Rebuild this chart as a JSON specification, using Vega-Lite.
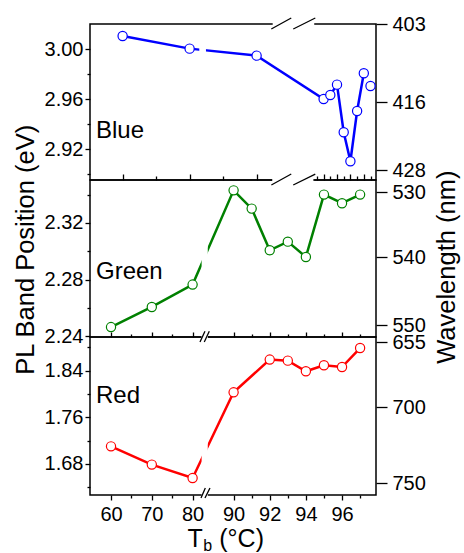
{
  "$schema": "https://vega.github.io/schema/vega-lite/v6.json",
  "padding": {"left": 12, "top": 13, "right": 0, "bottom": 0},
  "spacing": 0,
  "bounds": "flush",
  "config": {
    "view": {"stroke": "#000", "strokeWidth": 1.5},
    "font": "Liberation Sans",
    "axis": {"labelFont": "Liberation Sans", "titleFont": "Liberation Sans", "labelFontSize": 20, "titleFontSize": 25.5, "titleFontWeight": "normal", "labelColor": "#000", "titleColor": "#000", "tickColor": "#000", "tickWidth": 1.3, "domain": false, "grid": false, "labelOverlap": false, "labelFlush": false}
  },
  "datasets": {
    "blue": [{"T":60,"E":3.0104},{"T":70,"E":3.0003},{"T":80,"E":2.9947},{"T":90,"E":2.960},{"T":91,"E":2.9632},{"T":92,"E":2.9715},{"T":93,"E":2.9334},{"T":94,"E":2.9102},{"T":95,"E":2.9504},{"T":96,"E":2.9806},{"T":97,"E":2.9704}],
    "green": [{"T":60,"E":2.2465},{"T":70,"E":2.2607},{"T":80,"E":2.2765},{"T":90,"E":2.3430},{"T":91,"E":2.3301},{"T":92,"E":2.3007},{"T":93,"E":2.3068},{"T":94,"E":2.2960},{"T":95,"E":2.3400},{"T":96,"E":2.3339},{"T":97,"E":2.3400}],
    "red": [{"T":60,"E":1.7102},{"T":70,"E":1.6789},{"T":80,"E":1.6559},{"T":90,"E":1.8028},{"T":92,"E":1.8589},{"T":93,"E":1.8571},{"T":94,"E":1.8388},{"T":95,"E":1.8491},{"T":96,"E":1.8462},{"T":97,"E":1.8787}]
  },
  "vconcat": [
    {
      "width": 286, "height": 156,
      "resolve": {"scale": {"y": "independent"}, "axis": {"y": "independent"}},
      "layer": [
        {"resolve": {"axis": {"x": "independent", "y": "independent"}},
         "layer": [
          {"data": {"name": "blue"}, "transform": [{"filter": "datum.T < 97"}],
           "mark": {"type": "line", "color": "#0000ff", "strokeWidth": 2.5},
           "encoding": {
             "x": {"field": "T", "type": "quantitative", "scale": {"domain": [55.13, 97.82], "nice": false, "zero": false},
                   "axis": {"orient": "bottom", "values": [60,70,80,90,92,94,96], "labels": false, "title": null, "tickSize": -6}},
             "y": {"field": "E", "type": "quantitative", "scale": {"domain": [2.8952, 3.02], "nice": false, "zero": false},
                   "axis": {"orient": "left", "values": [2.92,2.96,3.00], "format": ".2f", "title": null, "labelPadding": 2, "tickSize": 5}}
           }},
          {"data": {"values": [{}]}, "mark": {"type": "rect", "color": "#fff"},
           "encoding": {"x": {"datum": 71.44, "type": "quantitative", "axis": null}, "x2": {"datum": 72.44}, "y": {"datum": 2.9962, "type": "quantitative", "axis": null}, "y2": {"datum": 3.0012}}},
          {"data": {"values": [{}]}, "mark": {"type": "rect", "color": "#fff"},
           "encoding": {"x": {"datum": 82.4, "type": "quantitative", "axis": null}, "x2": {"datum": 88.6}, "y": {"datum": 3.018, "type": "quantitative", "axis": null}, "y2": {"datum": 3.022}}},
          {"data": {"values": [{}]}, "mark": {"type": "rect", "color": "#fff"},
           "encoding": {"x": {"datum": 82.4, "type": "quantitative", "axis": null}, "x2": {"datum": 88.6}, "y": {"datum": 2.8934, "type": "quantitative", "axis": null}, "y2": {"datum": 2.897}}},
          {"data": {"name": "blue"},
           "mark": {"type": "point", "shape": "circle", "size": 85, "filled": true, "fill": "#fff", "stroke": "#0000ff", "strokeWidth": 1.2, "opacity": 1},
           "encoding": {
             "x": {"field": "T", "type": "quantitative", "axis": {"orient": "bottom", "values": [65,75,89,91,93,95,97], "labels": false, "title": null, "tickSize": -4}},
             "y": {"field": "E", "type": "quantitative", "axis": {"orient": "left", "values": [2.90,2.94,2.98], "labels": false, "title": null, "tickSize": 3}}}},
          {"data": {"values": [{}]}, "mark": {"type": "text", "text": "Blue", "fontSize": 24, "font": "Liberation Sans", "align": "left", "baseline": "alphabetic", "color": "#000"},
           "encoding": {"x": {"datum": 56.03, "type": "quantitative", "axis": null}, "y": {"datum": 2.9292, "type": "quantitative", "axis": null}}},
          {"data": {"values": [{}]}, "mark": {"type": "rule", "color": "#000", "strokeWidth": 1.3},
           "encoding": {"x": {"datum": 82.19, "type": "quantitative", "axis": null}, "x2": {"datum": 85.17}, "y": {"datum": 3.016, "type": "quantitative", "axis": null}, "y2": {"datum": 3.0248}}},
          {"data": {"values": [{}]}, "mark": {"type": "rule", "color": "#000", "strokeWidth": 1.3},
           "encoding": {"x": {"datum": 85.47, "type": "quantitative", "axis": null}, "x2": {"datum": 88.76}, "y": {"datum": 3.016, "type": "quantitative", "axis": null}, "y2": {"datum": 3.0248}}}
        ]},
        {"data": {"values": [{}]}, "mark": {"type": "point", "opacity": 0},
         "encoding": {"y": {"datum": 403, "type": "quantitative",
                            "scale": {"domain": [403, 416, 428], "range": [0, 78, 146.3], "nice": false, "zero": false},
                            "axis": {"orient": "right", "values": [403, 416, 428], "tickSize": 11, "labelPadding": 5, "title": null}}}}
      ]
    },
    {
      "width": 286, "height": 157,
      "resolve": {"scale": {"y": "independent"}, "axis": {"y": "independent"}},
      "layer": [
        {"resolve": {"axis": {"x": "independent", "y": "independent"}},
         "layer": [
          {"data": {"name": "green"},
           "mark": {"type": "line", "color": "#008000", "strokeWidth": 2.5},
           "encoding": {
             "x": {"field": "T", "type": "quantitative", "scale": {"domain": [54.85, 80, 90, 97.88], "range": [0, 102.6, 143.6, 286], "nice": false, "zero": false},
                   "axis": {"orient": "bottom", "values": [60,70,80,90,92,94,96], "labels": false, "title": null, "tickSize": -5}},
             "y": {"field": "E", "type": "quantitative", "scale": {"domain": [2.2395, 2.3503], "nice": false, "zero": false},
                   "axis": {"orient": "left", "values": [2.24,2.28,2.32], "format": ".2f", "labelPadding": 2, "tickSize": 5,
                            "title": "PL Band Position (eV)", "titleAlign": "left", "titleY": 194.3, "titlePadding": 6}}
           }},
          {"data": {"values": [{}]}, "mark": {"type": "rect", "color": "#fff"},
           "encoding": {"x": {"datum": 82.2, "type": "quantitative", "axis": null}, "x2": {"datum": 83.7}, "y": {"datum": 2.238, "type": "quantitative", "axis": null}, "y2": {"datum": 2.31}}},
          {"data": {"values": [{}]}, "mark": {"type": "rect", "color": "#fff"},
           "encoding": {"x": {"datum": 92.14, "type": "quantitative", "axis": null}, "x2": {"datum": 94.41}, "y": {"datum": 2.3489, "type": "quantitative", "axis": null}, "y2": {"datum": 2.3517}}},
          {"data": {"name": "green"},
           "mark": {"type": "point", "shape": "circle", "size": 85, "filled": true, "fill": "#fff", "stroke": "#008000", "strokeWidth": 1.2, "opacity": 1},
           "encoding": {
             "x": {"field": "T", "type": "quantitative", "axis": {"orient": "bottom", "values": [65,75,91,93,95,97], "labels": false, "title": null, "tickSize": -3}},
             "y": {"field": "E", "type": "quantitative", "axis": {"orient": "left", "values": [2.26,2.30,2.34], "labels": false, "title": null, "tickSize": 3}}}},
          {"data": {"values": [{}]}, "mark": {"type": "text", "text": "Green", "fontSize": 24, "font": "Liberation Sans", "align": "left", "baseline": "alphabetic", "color": "#000"},
           "encoding": {"x": {"datum": 56.32, "type": "quantitative", "axis": null}, "y": {"datum": 2.2803, "type": "quantitative", "axis": null}}},
          {"data": {"values": [{}]}, "mark": {"type": "rule", "color": "#000", "strokeWidth": 1.3},
           "encoding": {"x": {"datum": 92.09, "type": "quantitative", "axis": null}, "x2": {"datum": 93.19}, "y": {"datum": 2.3468, "type": "quantitative", "axis": null}, "y2": {"datum": 2.3545}}},
          {"data": {"values": [{}]}, "mark": {"type": "rule", "color": "#000", "strokeWidth": 1.3},
           "encoding": {"x": {"datum": 93.30, "type": "quantitative", "axis": null}, "x2": {"datum": 94.52}, "y": {"datum": 2.3468, "type": "quantitative", "axis": null}, "y2": {"datum": 2.3545}}}
        ]},
        {"data": {"values": [{}]}, "mark": {"type": "point", "opacity": 0},
         "encoding": {"y": {"datum": 540, "type": "quantitative",
                            "scale": {"domain": [530, 540, 550], "range": [12, 77.3, 145.3], "nice": false, "zero": false},
                            "axis": {"orient": "right", "values": [530, 540, 550], "tickSize": 11, "labelPadding": 5,
                                     "title": "Wavelength (nm)", "titleAngle": -90, "titleBaseline": "top", "titleAlign": "left", "titleY": 183.3, "titlePadding": 9}}}}
      ]
    },
    {
      "width": 286, "height": 158,
      "resolve": {"scale": {"y": "independent"}, "axis": {"y": "independent"}},
      "layer": [
        {"resolve": {"axis": {"x": "independent", "y": "independent"}},
         "layer": [
          {"data": {"name": "red"},
           "mark": {"type": "line", "color": "#ff0000", "strokeWidth": 2.5},
           "encoding": {
             "x": {"field": "T", "type": "quantitative", "scale": {"domain": [54.85, 80, 90, 97.88], "range": [0, 102.6, 143.6, 286], "nice": false, "zero": false},
                   "axis": {"orient": "bottom", "values": [60,70,80,90,92,94,96], "tickSize": 5, "labelPadding": 4, "title": null}},
             "y": {"field": "E", "type": "quantitative", "scale": {"domain": [1.6268, 1.8976], "nice": false, "zero": false},
                   "axis": {"orient": "left", "values": [1.68,1.76,1.84], "format": ".2f", "title": null, "labelPadding": 2, "tickSize": 5}}
           }},
          {"data": {"values": [{}]}, "mark": {"type": "rect", "color": "#fff"},
           "encoding": {"x": {"datum": 82.2, "type": "quantitative", "axis": null}, "x2": {"datum": 83.7}, "y": {"datum": 1.625, "type": "quantitative", "axis": null}, "y2": {"datum": 1.8995}}},
          {"data": {"name": "red"},
           "mark": {"type": "point", "shape": "circle", "size": 85, "filled": true, "fill": "#fff", "stroke": "#ff0000", "strokeWidth": 1.2, "opacity": 1},
           "encoding": {
             "x": {"field": "T", "type": "quantitative", "axis": {"orient": "bottom", "values": [65,75,91,93,95,97], "labels": false, "title": null, "tickSize": 3}},
             "y": {"field": "E", "type": "quantitative", "axis": {"orient": "left", "values": [1.64,1.72,1.80,1.88], "labels": false, "title": null, "tickSize": 3}}}},
          {"data": {"values": [{}]}, "mark": {"type": "text", "text": "Red", "fontSize": 24, "font": "Liberation Sans", "align": "left", "baseline": "alphabetic", "color": "#000"},
           "encoding": {"x": {"datum": 56.32, "type": "quantitative", "axis": null}, "y": {"datum": 1.7844, "type": "quantitative", "axis": null}}},
          {"data": {"values": [{}]}, "mark": {"type": "text", "text": "T", "fontSize": 25, "font": "Liberation Sans", "align": "left", "baseline": "alphabetic", "color": "#000"},
           "encoding": {"x": {"datum": 78.77, "type": "quantitative", "axis": null}, "y": {"datum": 1.5372, "type": "quantitative", "axis": null}}},
          {"data": {"values": [{}]}, "mark": {"type": "text", "text": "b", "fontSize": 16, "font": "Liberation Sans", "align": "left", "baseline": "alphabetic", "color": "#000"},
           "encoding": {"x": {"datum": 82.6, "type": "quantitative", "axis": null}, "y": {"datum": 1.5312, "type": "quantitative", "axis": null}}},
          {"data": {"values": [{}]}, "mark": {"type": "text", "text": "(°C)", "fontSize": 25, "font": "Liberation Sans", "align": "left", "baseline": "alphabetic", "color": "#000"},
           "encoding": {"x": {"datum": 86.5, "type": "quantitative", "axis": null}, "y": {"datum": 1.5372, "type": "quantitative", "axis": null}}},
          {"data": {"values": [{}]}, "mark": {"type": "rule", "color": "#000", "strokeWidth": 1.3},
           "encoding": {"x": {"datum": 81.8, "type": "quantitative", "axis": null}, "x2": {"datum": 83.02}, "y": {"datum": 1.889, "type": "quantitative", "axis": null}, "y2": {"datum": 1.9074}}},
          {"data": {"values": [{}]}, "mark": {"type": "rule", "color": "#000", "strokeWidth": 1.3},
           "encoding": {"x": {"datum": 82.85, "type": "quantitative", "axis": null}, "x2": {"datum": 84.07}, "y": {"datum": 1.889, "type": "quantitative", "axis": null}, "y2": {"datum": 1.9074}}},
          {"data": {"values": [{}]}, "mark": {"type": "rule", "color": "#000", "strokeWidth": 1.3},
           "encoding": {"x": {"datum": 82.05, "type": "quantitative", "axis": null}, "x2": {"datum": 83.10}, "y": {"datum": 1.6217, "type": "quantitative", "axis": null}, "y2": {"datum": 1.6388}}},
          {"data": {"values": [{}]}, "mark": {"type": "rule", "color": "#000", "strokeWidth": 1.3},
           "encoding": {"x": {"datum": 83.02, "type": "quantitative", "axis": null}, "x2": {"datum": 84.24}, "y": {"datum": 1.6217, "type": "quantitative", "axis": null}, "y2": {"datum": 1.6388}}}
        ]},
        {"data": {"values": [{}]}, "mark": {"type": "point", "opacity": 0},
         "encoding": {"y": {"datum": 700, "type": "quantitative",
                            "scale": {"domain": [655, 700, 750], "range": [5, 70.3, 146], "nice": false, "zero": false},
                            "axis": {"orient": "right", "values": [655, 700, 750], "tickSize": 11, "labelPadding": 5, "title": null}}}}
      ]
    }
  ]
}
